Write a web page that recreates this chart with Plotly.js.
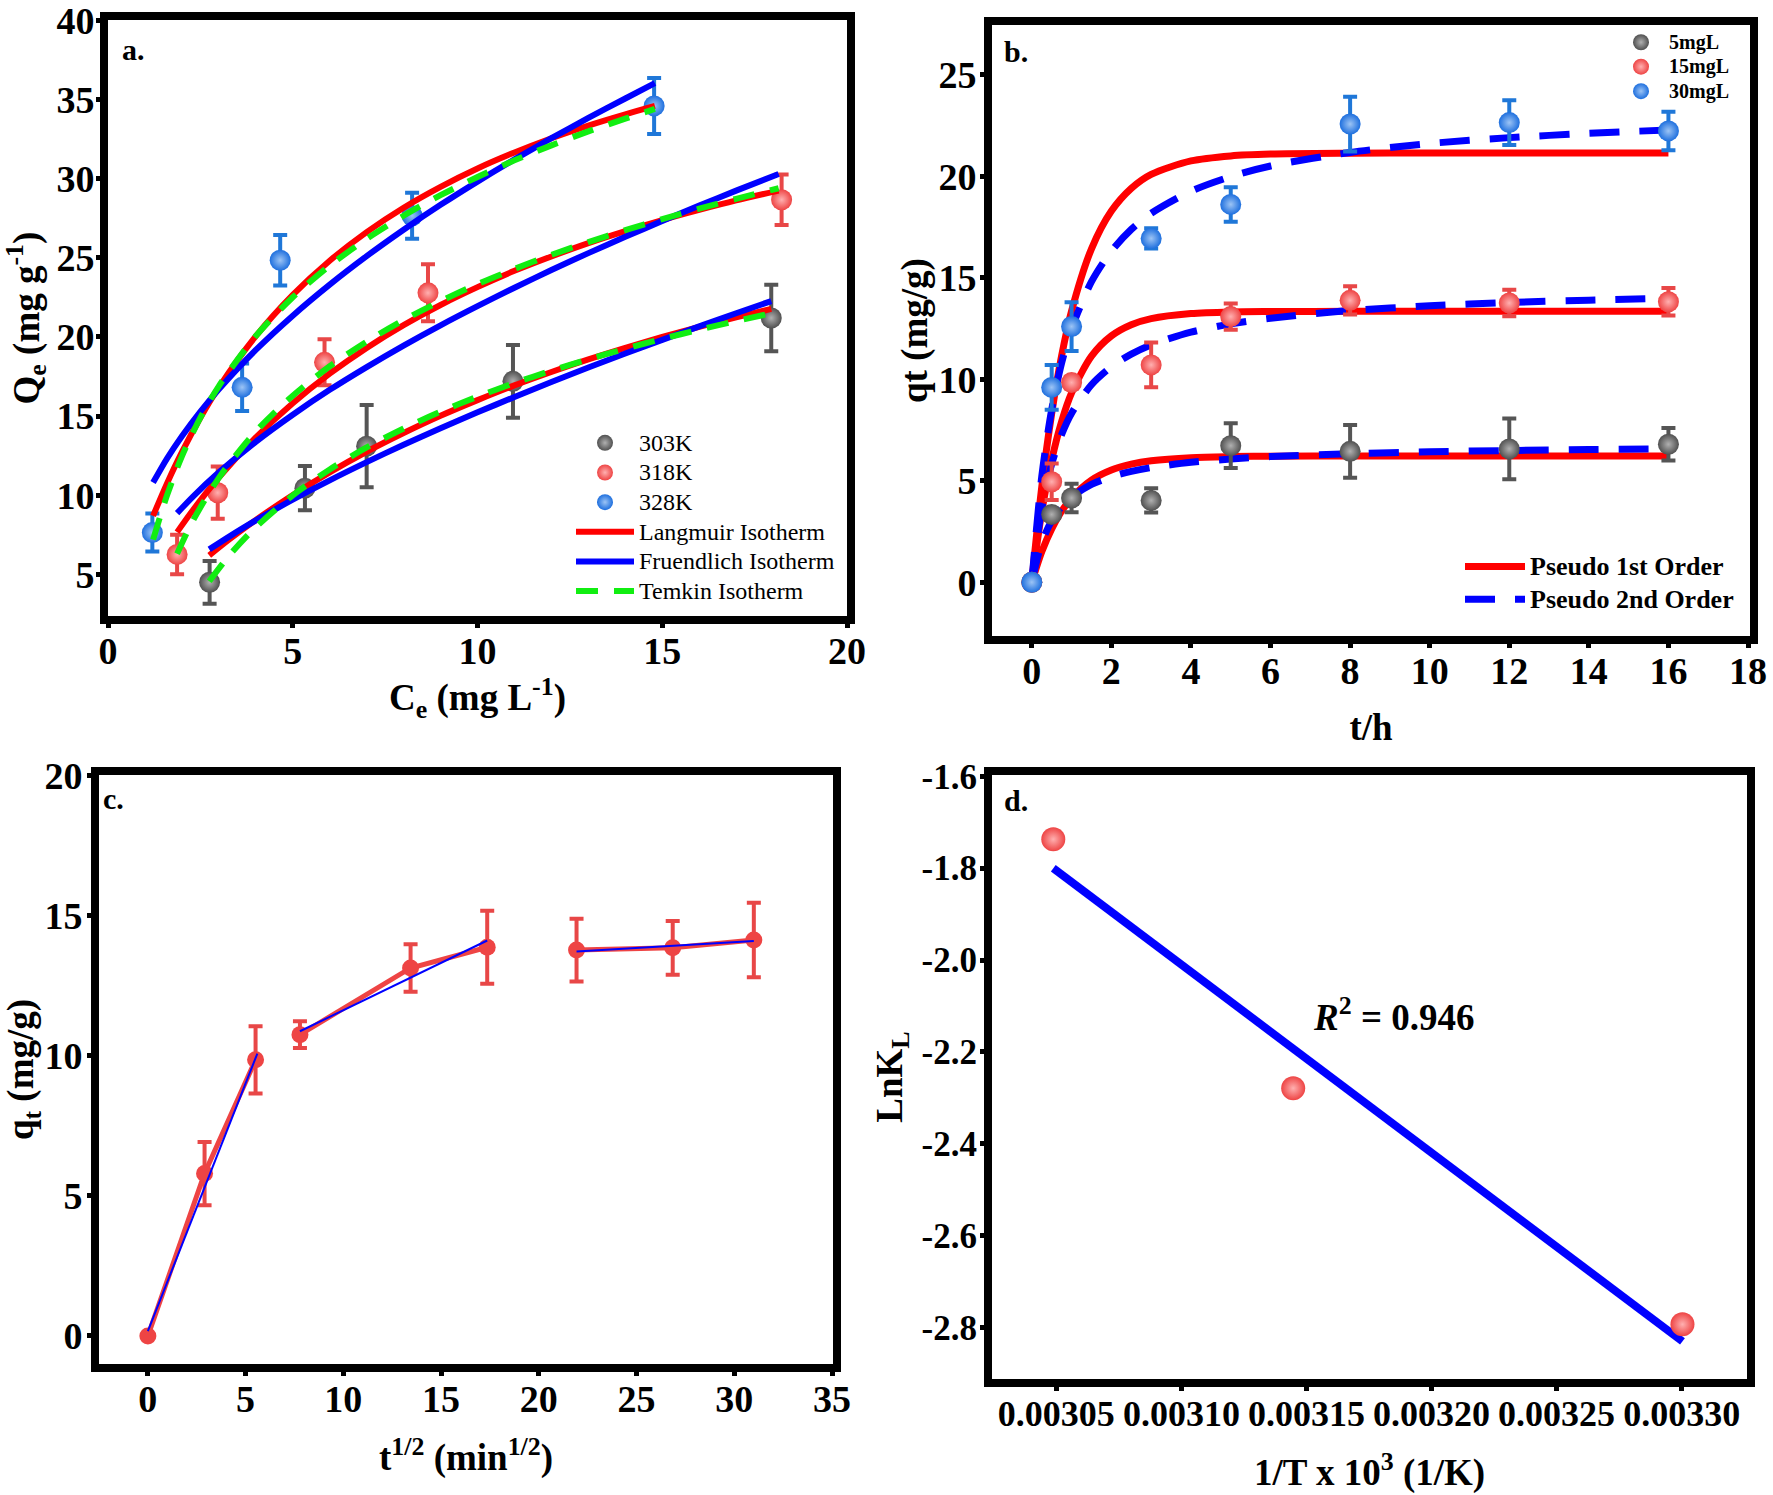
<!DOCTYPE html>
<html><head><meta charset="utf-8">
<script src="https://cdn.plot.ly/plotly-3.0.1.min.js"></script>
<style>html,body{margin:0;padding:0;background:#fff}#chart{width:1773px;height:1495px}</style>
</head><body><div id="chart"></div>
<script>
// ---------- Panel a: isotherms ----------
const ce303 = [2.75, 5.33, 7.0, 10.96, 17.95];
const qe303 = [4.5, 10.45, 13.1, 17.2, 21.2];
const err303 = [1.35, 1.4, 2.6, 2.3, 2.1];
const ce318 = [1.87, 2.97, 5.86, 8.66, 18.23];
const qe318 = [6.26, 10.16, 18.4, 22.79, 28.67];
const err318 = [1.25, 1.65, 1.45, 1.8, 1.6];
const ce328 = [1.2, 3.63, 4.66, 8.23, 14.78];
const qe328 = [7.64, 16.82, 24.85, 27.66, 34.6];
const err328 = [1.2, 1.5, 1.6, 1.45, 1.77];
const aSeriesNames = ['303K', '318K', '328K'];
const aFitNames = ['Langmuir Isotherm', 'Fruendlich Isotherm', 'Temkin Isotherm'];

const grid303 = [2.74, 3.3, 4, 5, 6, 7, 8, 9, 10, 11, 12, 13, 14, 15, 16, 17, 17.95];
const lang303 = [6.2, 7.24, 8.44, 10.02, 11.45, 12.75, 13.93, 15.02, 16.01, 16.94, 17.79, 18.58, 19.31, 20.0, 20.64, 21.24, 21.78];
const freu303 = [6.58, 7.42, 8.41, 9.72, 10.94, 12.09, 13.19, 14.23, 15.24, 16.21, 17.15, 18.07, 18.96, 19.82, 20.67, 21.5, 22.27];
const temk303 = [4.57, 6.25, 7.98, 9.99, 11.63, 13.02, 14.22, 15.28, 16.23, 17.09, 17.87, 18.59, 19.26, 19.88, 20.46, 21.01, 21.5];

const grid318 = [1.87, 2.3, 3, 4, 5, 6, 7, 8, 9, 10, 11, 12, 13, 14, 15, 16, 17, 18.15];
const lang318 = [7.67, 9.07, 11.12, 13.65, 15.81, 17.68, 19.31, 20.75, 22.02, 23.15, 24.18, 25.09, 25.93, 26.69, 27.39, 28.03, 28.63, 29.25];
const freu318 = [8.87, 9.92, 11.45, 13.38, 15.09, 16.66, 18.1, 19.46, 20.74, 21.95, 23.11, 24.23, 25.3, 26.33, 27.33, 28.3, 29.25, 30.3];
const temk318 = [6.3, 8.4, 11.1, 14.03, 16.29, 18.15, 19.71, 21.07, 22.26, 23.34, 24.3, 25.19, 26.0, 26.75, 27.45, 28.11, 28.73, 29.4];

const grid328 = [1.22, 1.6, 2, 2.5, 3, 4, 5, 6, 7, 8, 9, 10, 11, 12, 13, 14, 14.8];
const lang328 = [8.7, 10.76, 12.72, 14.9, 16.82, 20.05, 22.66, 24.82, 26.63, 28.17, 29.49, 30.65, 31.66, 32.56, 33.36, 34.07, 34.6];
const freu328 = [10.8, 12.33, 13.73, 15.29, 16.69, 19.18, 21.35, 23.31, 25.11, 26.78, 28.35, 29.82, 31.22, 32.56, 33.84, 35.07, 36.04];
const temk328 = [7.2, 10.01, 12.46, 14.9, 16.9, 20.06, 22.51, 24.51, 26.2, 27.66, 28.96, 30.11, 31.16, 32.11, 32.99, 33.8, 34.41];

// ---------- Panel b: kinetics ----------
const tPts = [0, 0.5, 1, 3, 5, 8, 12, 16];
const q5 = [0, 3.34, 4.15, 4.03, 6.73, 6.45, 6.57, 6.8];
const e5 = [0, 0.25, 0.7, 0.6, 1.1, 1.3, 1.5, 0.8];
const q15 = [0, 4.95, 9.84, 10.71, 13.09, 13.89, 13.76, 13.82];
const e15 = [0, 0.9, 0.3, 1.1, 0.65, 0.7, 0.65, 0.68];
const q30 = [0, 9.6, 12.6, 16.94, 18.62, 22.58, 22.65, 22.24];
const e30 = [0, 1.1, 1.2, 0.5, 0.85, 1.35, 1.1, 0.95];
const bSeriesNames = ['5mgL', '15mgL', '30mgL'];
const bFitNames = ['Pseudo 1st Order', 'Pseudo 2nd Order'];

const tFit = [0, 0.25, 0.5, 0.75, 1, 1.5, 2, 2.5, 3, 4, 5, 6, 8, 10, 12, 14, 16];
const pfo5 = [0, 1.5, 2.63, 3.5, 4.15, 5.03, 5.53, 5.82, 5.99, 6.14, 6.19, 6.21, 6.22, 6.22, 6.22, 6.22, 6.22];
const pfo15 = [0, 3.46, 6.02, 7.92, 9.33, 11.14, 12.14, 12.69, 12.99, 13.24, 13.32, 13.34, 13.35, 13.35, 13.35, 13.35, 13.35];
const pfo30 = [0, 4.68, 8.32, 11.16, 13.37, 16.43, 18.29, 19.41, 20.1, 20.76, 21.01, 21.1, 21.14, 21.15, 21.15, 21.15, 21.15];
const pso5 = [0, 1.95, 3.03, 3.72, 4.2, 4.82, 5.2, 5.46, 5.65, 5.91, 6.07, 6.19, 6.33, 6.43, 6.49, 6.54, 6.57];
const pso15 = [0, 3.63, 5.82, 7.28, 8.33, 9.73, 10.62, 11.24, 11.7, 12.32, 12.73, 13.01, 13.39, 13.62, 13.79, 13.9, 14.0];
const pso30 = [0, 5.2, 8.51, 10.81, 12.5, 14.81, 16.32, 17.39, 18.18, 19.27, 19.99, 20.51, 21.18, 21.62, 21.91, 22.12, 22.29];

// ---------- Panel c: intraparticle diffusion ----------
const c1x = [0, 2.9, 5.51],       c1y = [0, 5.8, 9.86],         c1e = [0, 1.13, 1.2];
const c2x = [7.78, 13.44, 17.36], c2y = [10.76, 13.14, 13.88], c2e = [0.48, 0.85, 1.3];
const c3x = [21.93, 26.85, 31.0], c3y = [13.78, 13.86, 14.14], c3e = [1.12, 0.96, 1.33];
const f1x = [0, 5.6],      f1y = [0.17, 10.08];
const f2x = [7.78, 17.36], f2y = [10.88, 14.12];
const f3x = [21.93, 31.0], f3y = [13.73, 14.1];

// ---------- Panel d: van't Hoff ----------
const invT = [0.0030488, 0.0031447, 0.0033003];
const lnKL = [-1.737, -2.279, -2.793];
const fitInvT = [0.0030488, 0.0033003];
const fitLnKL = [-1.80, -2.83];
const dTickVals = [-1.6, -1.8, -2.0, -2.2, -2.4, -2.6, -2.8];
const dTickText = ['-1.6', '-1.8', '-2.0', '-2.2', '-2.4', '-2.6', '-2.8'];

// ---------- styling ----------
const W = 1773, H = 1495;
const FONT = '"Liberation Serif", "Times New Roman", serif';
const dxp = (a, b) => [a / W, b / W];
const dyp = (top, bottom) => [1 - bottom / H, 1 - top / H];
const big = (t, px) => '<span style="font-size:' + px + 'px">' + t + '</span>';

const GRAY = '#505050', RED = '#ee4444', BLUE = '#1e6fde';
function sphere(color, center, size) {
  return {color: color, size: size, symbol: 'circle', gradient: {type: 'radial', color: center}, line: {width: 0}};
}
function errb(arr, color) {
  return {type: 'data', array: arr, visible: true, color: color, thickness: 4, width: 7};
}
function axis(extra, tsize) {
  return Object.assign({
    showgrid: false, zeroline: false, showline: true, linewidth: 8, linecolor: '#000', mirror: true,
    ticks: 'outside', ticklen: 4, tickwidth: 5, tickcolor: '#000', ticklabeloverflow: 'allow',
    tickfont: {family: FONT, size: tsize || 38, weight: 'bold', color: '#000'}
  }, extra);
}
function ttl(text, standoff) {
  return {text: text, standoff: standoff, font: {family: FONT, size: 37, weight: 'bold', color: '#000'}};
}

const traces = [];
// Panel a points
[[ce303, qe303, err303, GRAY, '#b0b0b0', '#555555'],
 [ce318, qe318, err318, RED, '#ffb0b0', '#e84747'],
 [ce328, qe328, err328, BLUE, '#9cc4f5', '#1f77d8']].forEach((s, i) => {
  traces.push({x: s[0], y: s[1], type: 'scatter', mode: 'markers', name: big(aSeriesNames[i], 24), xaxis: 'x', yaxis: 'y',
    marker: sphere(s[3], s[4], 21), error_y: errb(s[2], s[5]), legend: 'legend'});
});
// Panel a fits
const aFits = [
  [grid303, lang303, grid318, lang318, grid328, lang328, '#ff0000', 'solid'],
  [grid303, freu303, grid318, freu318, grid328, freu328, '#0000ff', 'solid'],
  [grid303, temk303, grid318, temk318, grid328, temk328, '#11ee11', '22px,16px']
];
aFits.forEach((f, i) => {
  for (let k = 0; k < 3; k++) {
    traces.push({x: f[2 * k], y: f[2 * k + 1], type: 'scatter', mode: 'lines', name: big(aFitNames[i], 24),
      xaxis: 'x', yaxis: 'y', legend: 'legend', showlegend: k === 0, legendgroup: aFitNames[i],
      line: {color: f[6], width: 6, dash: f[7], shape: 'spline', smoothing: 0.8}});
  }
});

// Panel b fits (drawn first)
[[pfo5, pfo15, pfo30, '#ff0000', 'solid'],
 [pso5, pso15, pso30, '#0000ff', '30px,20px']].forEach((f, i) => {
  for (let k = 0; k < 3; k++) {
    traces.push({x: tFit, y: f[k], type: 'scatter', mode: 'lines', name: big(bFitNames[i], 26),
      xaxis: 'x2', yaxis: 'y2', legend: 'legend3', showlegend: k === 0, legendgroup: bFitNames[i],
      line: {color: f[3], width: 7, dash: f[4], shape: 'spline', smoothing: 0.8}});
  }
});
// Panel b points
[[q5, e5, GRAY, '#b0b0b0', '#555555'],
 [q15, e15, RED, '#ffb0b0', '#e84747'],
 [q30, e30, BLUE, '#9cc4f5', '#1f77d8']].forEach((s, i) => {
  traces.push({x: tPts, y: s[0], type: 'scatter', mode: 'markers', name: big(bSeriesNames[i], 20), xaxis: 'x2', yaxis: 'y2',
    legend: 'legend2', marker: sphere(s[2], s[3], 21), error_y: errb(s[1], s[4])});
});

// Panel c
[[c1x, c1y, c1e], [c2x, c2y, c2e], [c3x, c3y, c3e]].forEach(g => {
  traces.push({x: g[0], y: g[1], type: 'scatter', mode: 'lines+markers', showlegend: false,
    xaxis: 'x3', yaxis: 'y3', line: {color: RED, width: 5},
    marker: {color: RED, size: 17}, error_y: errb(g[2], '#e84747')});
});
[[f1x, f1y], [f2x, f2y], [f3x, f3y]].forEach(g => {
  traces.push({x: g[0], y: g[1], type: 'scatter', mode: 'lines', showlegend: false,
    xaxis: 'x3', yaxis: 'y3', line: {color: '#0000ff', width: 2}});
});

// Panel d
traces.push({x: fitInvT, y: fitLnKL, type: 'scatter', mode: 'lines', showlegend: false,
  xaxis: 'x4', yaxis: 'y4', line: {color: '#0000ff', width: 8}});
traces.push({x: invT, y: lnKL, type: 'scatter', mode: 'markers', showlegend: false,
  xaxis: 'x4', yaxis: 'y4', marker: sphere(RED, '#ffb0b0', 24)});

function paperAnn(text, px, py, size) {
  return {text: text, x: px / W, y: 1 - py / H, xref: 'paper', yref: 'paper', showarrow: false,
    xanchor: 'center', yanchor: 'middle', font: {family: FONT, size: size, weight: 'bold', color: '#000'}};
}

const layout = {
  width: W, height: H, margin: {l: 0, r: 0, t: 0, b: 0},
  paper_bgcolor: '#fff', plot_bgcolor: '#fff',
  font: {family: FONT, color: '#000'},
  xaxis: axis({domain: dxp(108, 847), range: [0, 20], dtick: 5, tick0: 0, anchor: 'y', ticklabelstandoff: -10,
    title: ttl('C<sub>e</sub> (mg L<sup>-1</sup>)', 0)}),
  yaxis: axis({domain: dyp(20, 616), range: [2.37, 40.03], dtick: 5, tick0: 0, anchor: 'x', ticklabelstandoff: -6,
    title: ttl('Q<sub>e</sub> (mg g<sup>-1</sup>)', 15)}),
  xaxis2: axis({domain: dxp(992, 1750), range: [-1, 18.05], dtick: 2, tick0: 0, anchor: 'y2', ticklabelstandoff: -10,
    title: ttl('t/h', 27)}),
  yaxis2: axis({domain: dyp(25, 636), range: [-2.65, 27.46], dtick: 5, tick0: 0, anchor: 'x2', ticklabelstandoff: -4,
    title: ttl('qt (mg/g)', 2)}),
  xaxis3: axis({domain: dxp(99, 833), range: [-2.5, 35.05], dtick: 5, tick0: 0, anchor: 'y3', ticklabelstandoff: -10,
    title: ttl('t<sup>1/2</sup> (min<sup>1/2</sup>)', 29)}),
  yaxis3: axis({domain: dyp(775, 1364), range: [-1, 20.03], dtick: 5, tick0: 0, anchor: 'x3', ticklabelstandoff: -3,
    title: ttl('q<sub>t</sub> (mg/g)', 2)}),
  xaxis4: axis({domain: dxp(992, 1747), range: [0.0030243, 0.0033261], dtick: 0.00005, tick0: 0.00305,
    tickformat: '.5f', anchor: 'y4', ticklabelstandoff: -8, title: ttl('1/T x 10<sup>3</sup> (1/K)', 29)}, 36),
  yaxis4: axis({domain: dyp(775, 1379), range: [-2.912, -1.597], tickmode: 'array', ticklabelstandoff: -4,
    tickvals: dTickVals, ticktext: dTickText, anchor: 'x4', title: ttl('LnK<sub>L</sub>', 11)}, 35),
  legend: {x: 571 / W, y: 1 - 423 / H, xanchor: 'left', yanchor: 'top', bgcolor: 'rgba(0,0,0,0)',
    font: {family: FONT, size: 20.5, color: '#000'}, tracegroupgap: 0, itemwidth: 58},
  legend2: {x: 1613 / W, y: 1 - 25 / H, xanchor: 'left', yanchor: 'top', bgcolor: 'rgba(0,0,0,0)',
    font: {family: FONT, size: 16.5, weight: 'bold', color: '#000'}, tracegroupgap: 0, itemwidth: 46},
  legend3: {x: 1460 / W, y: 1 - 545 / H, xanchor: 'left', yanchor: 'top', bgcolor: 'rgba(0,0,0,0)',
    font: {family: FONT, size: 23, weight: 'bold', color: '#000'}, tracegroupgap: 0, itemwidth: 60},
  annotations: [
    paperAnn('a.', 133, 50, 30), paperAnn('b.', 1016, 51, 30),
    paperAnn('c.', 114, 798, 30), paperAnn('d.', 1016, 800, 30),
    {text: '<i>R</i><sup>2</sup> = 0.946', x: 0.0031517, y: -2.118, xref: 'x4', yref: 'y4',
      showarrow: false, xanchor: 'left', yanchor: 'middle',
      font: {family: FONT, size: 37, weight: 'bold', color: '#000'}}
  ]
};

Plotly.newPlot('chart', traces, layout, {displayModeBar: false, staticPlot: true});
</script>
</body></html>
